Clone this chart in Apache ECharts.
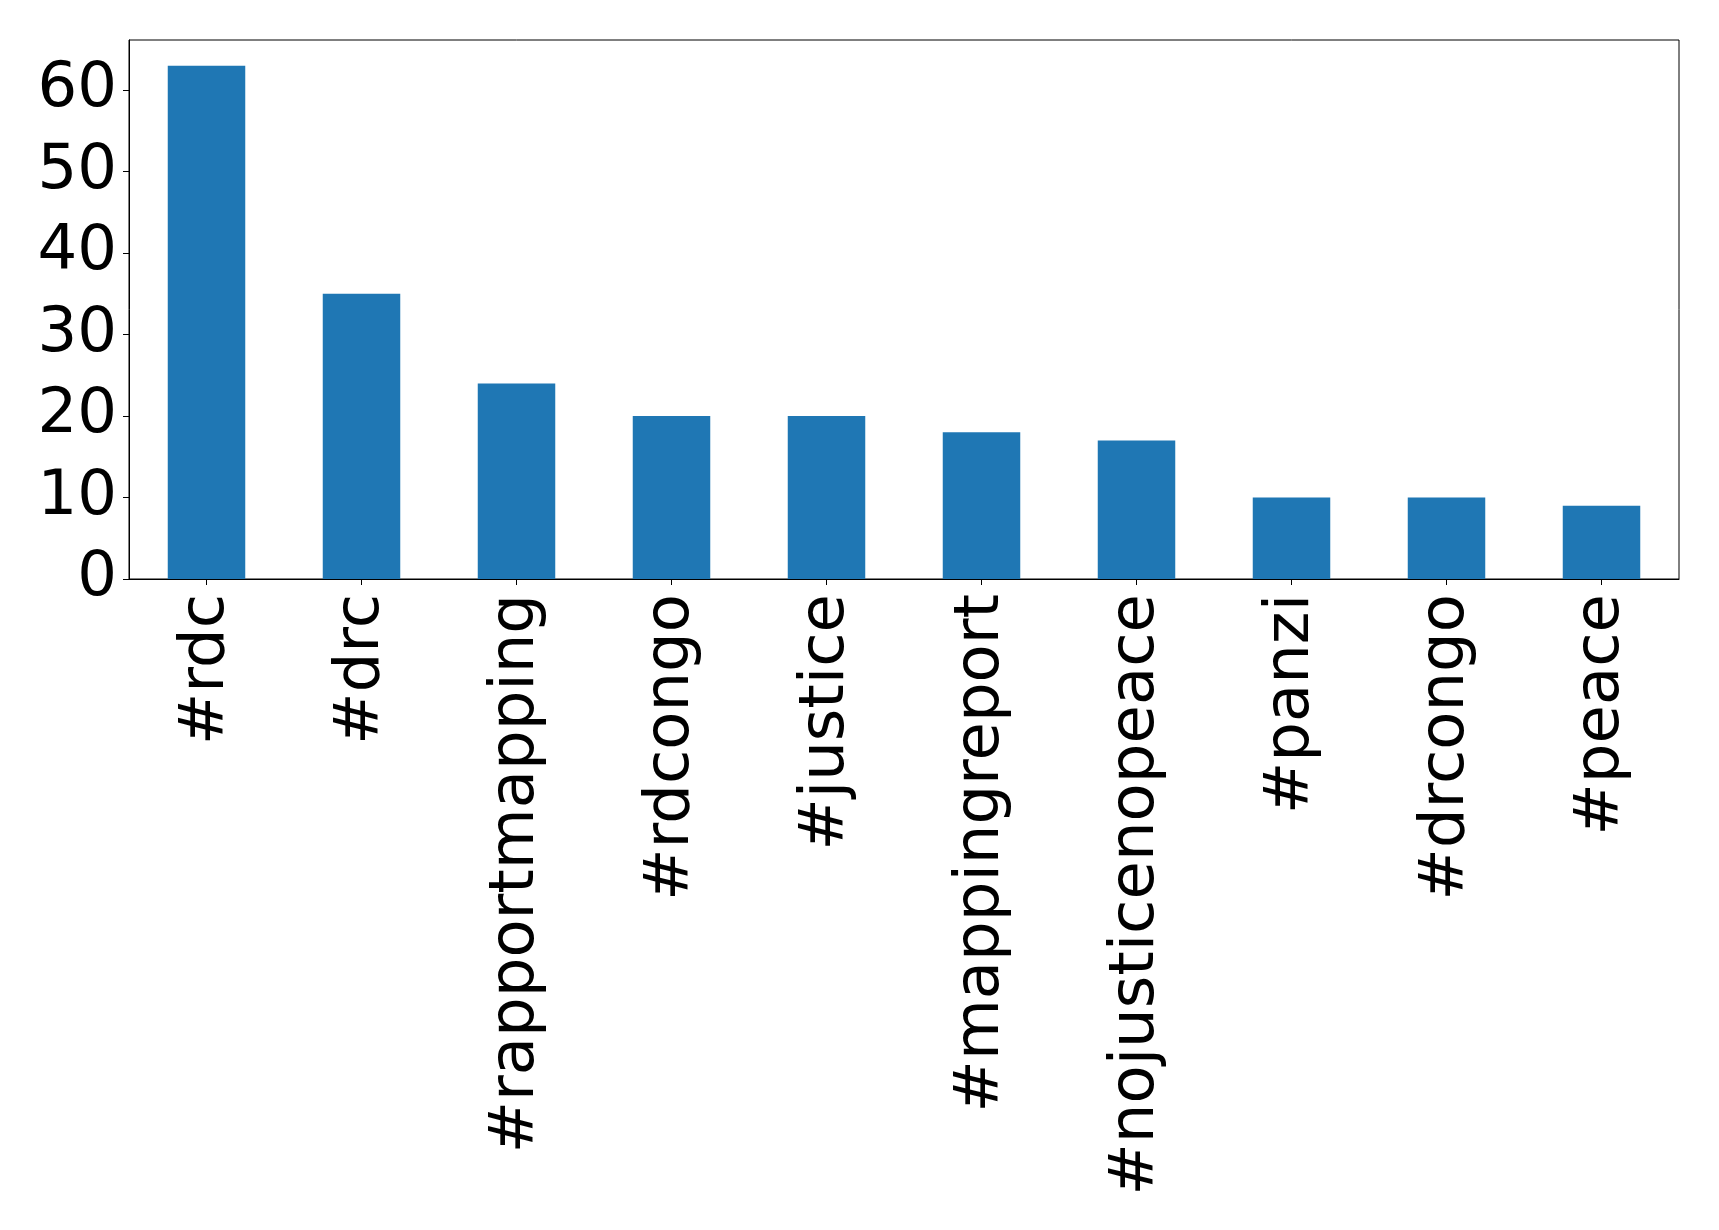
<!DOCTYPE html>
<html>
<head>
<meta charset="utf-8">
<script src="https://cdn.jsdelivr.net/npm/echarts@6/dist/echarts.min.js"></script>
<style>
html, body { margin: 0; padding: 0; background: #fff; }
#chart { width: 1719px; height: 1230px; }
</style>
</head>
<body>
<div id="chart"></div>
<script>
const categories = ['#rdc', '#drc', '#rapportmapping', '#rdcongo', '#justice', '#mappingreport', '#nojusticenopeace', '#panzi', '#drcongo', '#peace'];
const counts = [63, 35, 24, 20, 20, 18, 17, 10, 10, 9];
const yTicks = [0, 10, 20, 30, 40, 50, 60];

const chart = echarts.init(document.getElementById('chart'), null, { renderer: 'canvas' });
const font = 'DejaVu Sans';
chart.setOption({
  animation: false,
  backgroundColor: '#ffffff',
  grid: {
    left: 129, right: 40, top: 40, bottom: 651,
    show: true, borderColor: '#000', borderWidth: 1, backgroundColor: 'transparent'
  },
  xAxis: {
    type: 'category',
    data: categories,
    axisLine: { show: true, lineStyle: { color: '#000', width: 1 } },
    axisTick: { show: true, alignWithLabel: true, length: 6, lineStyle: { color: '#000', width: 1 } },
    axisLabel: { rotate: 90, margin: 15, color: '#000', fontFamily: font, fontSize: 62.5, interval: 0 },
    splitLine: { show: false }
  },
  yAxis: {
    type: 'value',
    min: 0,
    max: 66.15,
    interval: 10,
    axisLine: { show: true, lineStyle: { color: '#000', width: 1 } },
    axisTick: { show: true, length: 6, lineStyle: { color: '#000', width: 1 }, customValues: yTicks },
    axisLabel: { margin: 12, color: '#000', fontFamily: font, fontSize: 62.5, customValues: yTicks },
    splitLine: { show: false }
  },
  series: [{
    type: 'bar',
    data: counts,
    barWidth: '50%',
    itemStyle: { color: '#1f77b4' }
  }]
});
</script>
</body>
</html>
